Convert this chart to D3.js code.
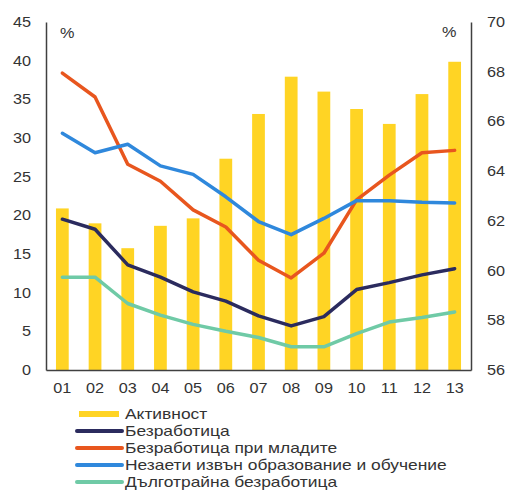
<!DOCTYPE html>
<html>
<head>
<meta charset="utf-8">
<script src="https://cdn.jsdelivr.net/npm/d3@7"></script>
<style>
  body { margin: 0; background: #fff; }
  text { font-family: "Liberation Sans", Arial, sans-serif; fill: #333; }
</style>
</head>
<body>
<div id="chart"></div>
<script>
const years = ["01", "02", "03", "04", "05", "06", "07", "08", "09", "10", "11", "12", "13"];
const activity = [62.5, 61.9, 60.9, 61.8, 62.1, 64.5, 66.3, 67.8, 67.2, 66.5, 65.9, 67.1, 68.4];
const unemployment = [19.5, 18.2, 13.6, 12.0, 10.1, 8.9, 7.0, 5.7, 6.9, 10.4, 11.3, 12.3, 13.1];
const youthUnemp = [38.4, 35.3, 26.6, 24.4, 20.7, 18.5, 14.2, 11.9, 15.1, 22.0, 25.2, 28.1, 28.4];
const neet = [30.6, 28.1, 29.2, 26.4, 25.3, 22.4, 19.2, 17.5, 19.6, 21.9, 21.9, 21.7, 21.6];
const longTerm = [12.0, 12.0, 8.6, 7.1, 5.9, 5.0, 4.2, 3.0, 3.0, 4.7, 6.2, 6.8, 7.5];
const leftTicks = [0, 5, 10, 15, 20, 25, 30, 35, 40, 45];
const rightTicks = [56, 58, 60, 62, 64, 66, 68, 70];

const series = [
  {name: "Безработица", values: unemployment, color: "#2b2b5e"},
  {name: "Безработица при младите", values: youthUnemp, color: "#e8561e"},
  {name: "Незаети извън образование и обучение", values: neet, color: "#2f88dc"},
  {name: "Дълготрайна безработица", values: longTerm, color: "#6fcaa6"}
];

// text in the original is a bit wider than normal Arial
const stretch = 1.16;

const margin = {top: 22, right: 37, bottom: 120, left: 46},
    width = 508 - margin.left - margin.right,
    height = 490 - margin.top - margin.bottom;

const svg = d3.select("#chart")
    .append("svg")
    .attr("width", 508)
    .attr("height", 490)
    .append("g")
    .attr("transform", "translate(" + margin.left + "," + margin.top + ")");

const x = d3.scaleBand()
    .domain(years)
    .range([0, width])
    .paddingInner(0.61)
    .paddingOuter(0.305);
const y = d3.scaleLinear().domain([0, 45]).range([height, 0]);
const y2 = d3.scaleLinear().domain([56, 70]).range([height, 0]);

// bars
svg.selectAll(".bar")
    .data(years)
    .enter().append("rect")
    .attr("class", "bar")
    .attr("x", d => x(d))
    .attr("width", x.bandwidth())
    .attr("y", (d, i) => y2(activity[i]))
    .attr("height", (d, i) => height - y2(activity[i]))
    .style("fill", "#ffd424");

// lines
const line = d3.line()
    .x((d, i) => x(years[i]) + x.bandwidth() / 2)
    .y(d => y(d));

for (const s of series) {
    svg.append("path")
        .datum(s.values)
        .attr("d", line)
        .attr("fill", "none")
        .attr("stroke", s.color)
        .attr("stroke-width", 3.5)
        .attr("stroke-linejoin", "round")
        .attr("stroke-linecap", "round");
}

// axes
const left = svg.append("g")
    .call(d3.axisLeft(y).tickValues(leftTicks).tickSize(0).tickPadding(15 / stretch));
const right = svg.append("g")
    .attr("transform", "translate(" + width + ",0)")
    .call(d3.axisRight(y2).tickValues(rightTicks).tickSize(0).tickPadding(16 / stretch));
const bottom = svg.append("g")
    .attr("transform", "translate(0," + height + ")")
    .call(d3.axisBottom(x).tickSize(0).tickPadding(13));

for (const ax of [left, right, bottom]) {
    ax.select(".domain").attr("stroke", "#404040").attr("stroke-width", 1.5);
    ax.selectAll("text")
        .attr("transform", "scale(" + stretch + ",1)")
        .style("font-size", "14px")
        .style("fill", "#333");
}

function label(g, px, py, txt, size) {
    return g.append("text")
        .attr("transform", "translate(" + px + "," + py + ") scale(" + stretch + ",1)")
        .attr("dy", "0.35em")
        .style("font-size", size + "px")
        .text(txt);
}

label(svg, 14, 11, "%", 14);
label(svg, width - 29, 10, "%", 14);

// legend
const legend = svg.append("g")
    .attr("transform", "translate(0," + (height + 44) + ")");

legend.append("rect")
    .attr("x", 33).attr("y", -3)
    .attr("width", 40).attr("height", 6)
    .style("fill", "#ffd424");
label(legend, 79, 0, "Активност", 15);

series.forEach((s, i) => {
    const yy = (i + 1) * 17;
    legend.append("line")
        .attr("x1", 31).attr("x2", 76)
        .attr("y1", yy).attr("y2", yy)
        .attr("stroke", s.color)
        .attr("stroke-width", 4)
        .attr("stroke-linecap", "round");
    label(legend, 79, yy, s.name, 15);
});
</script>
</body>
</html>
